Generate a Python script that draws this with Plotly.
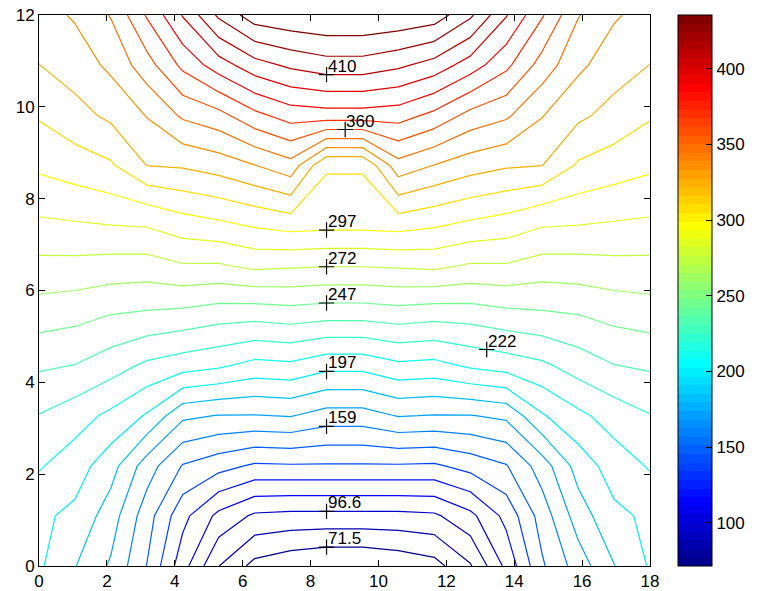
import numpy as np
import plotly.graph_objects as go

# ---------------- data ----------------
x_grid = [0.0, 1.059, 2.118, 3.176, 4.235, 5.294, 6.353, 7.412, 8.471,
          9.529, 10.588, 11.647, 12.706, 13.765, 14.824, 15.882, 16.941, 18.0]
y_grid = [0.0, 1.091, 2.182, 3.273, 4.364, 5.455, 6.545, 7.636, 8.727,
          9.818, 10.909, 12.0]

z_rows = [
    [199.0, 185.0, 170.2, 146.5, 114.2, 84.3, 67.5, 62.0, 58.5, 58.5, 62.0, 66.7, 82.8, 112.3, 145.1, 165.2, 184.0, 198.3],
    [199.5, 194.0, 178.0, 152.5, 125.5, 105.7, 94.4, 93.0, 93.0, 93.0, 93.0, 94.4, 105.7, 125.5, 152.5, 178.0, 194.0, 199.5],
    [210.8, 203.0, 189.6, 165.6, 146.0, 138.9, 132.3, 133.0, 133.0, 133.0, 133.0, 132.3, 138.9, 146.0, 165.6, 189.6, 203.0, 210.8],
    [221.6, 215.0, 206.6, 195.7, 174.6, 171.4, 171.3, 172.6, 166.5, 166.5, 172.6, 171.3, 171.4, 174.6, 195.7, 206.6, 215.0, 221.6],
    [236.4, 234.3, 227.7, 219.6, 215.0, 211.5, 205.5, 206.9, 201.0, 201.0, 206.9, 205.5, 211.5, 215.0, 219.6, 227.7, 234.3, 236.4],
    [252.9, 250.8, 246.8, 244.9, 243.0, 239.5, 238.5, 240.5, 238.5, 238.5, 240.5, 238.5, 239.5, 243.0, 244.9, 246.8, 250.8, 252.9],
    [269.0, 268.7, 267.4, 267.0, 271.3, 271.0, 275.4, 274.1, 273.2, 273.2, 274.1, 275.4, 271.0, 271.3, 267.0, 267.4, 268.7, 269.0],
    [285.3, 287.0, 289.1, 290.4, 296.4, 300.1, 304.5, 308.7, 307.4, 307.4, 308.7, 304.5, 300.1, 296.4, 290.4, 289.1, 287.0, 285.3],
    [299.9, 303.9, 308.3, 322.7, 324.1, 328.1, 334.8, 342.9, 310.5, 310.5, 342.9, 334.8, 328.1, 324.1, 322.7, 308.3, 303.9, 299.9],
    [311.2, 318.2, 325.2, 335.7, 349.8, 356.1, 369.4, 378.4, 380.0, 380.0, 378.4, 369.4, 356.1, 349.8, 335.7, 325.2, 318.2, 311.2],
    [322.3, 328.2, 337.8, 354.9, 375.8, 391.8, 405.3, 412.8, 417.5, 417.5, 412.8, 405.3, 391.8, 375.8, 354.9, 337.8, 328.2, 322.3],
    [330.0, 336.5, 348.4, 374.0, 398.7, 425.3, 442.4, 446.0, 448.0, 448.0, 446.0, 442.4, 425.3, 398.7, 374.0, 348.4, 336.5, 330.0],
]

level_start = 71.5
level_step = 12.55
n_levels = 30

# contour labels: level index and the x where the label sits
label_level_index = [0, 2, 7, 10, 12, 14, 16, 18, 23, 27]
label_x = [8.471, 8.471, 8.471, 8.471, 13.19, 8.471, 8.471, 8.471, 9.02, 8.471]

x_ticks = [0, 2, 4, 6, 8, 10, 12, 14, 16, 18]
y_ticks = [0, 2, 4, 6, 8, 10, 12]
cbar_ticks = [100, 150, 200, 250, 300, 350, 400]

# ---------------- styling helpers ----------------
def jet(m=64):
    n = int(np.ceil(m / 4))
    u = np.concatenate([np.arange(1, n + 1) / n, np.ones(n - 1), np.arange(n, 0, -1) / n])
    g = int(np.ceil(n / 2)) - (1 if m % 4 == 1 else 0) + np.arange(1, len(u) + 1)
    r = g + n
    b = g - n
    J = np.zeros((m, 3))
    for idx, col in ((r, 0), (g, 1), (b, 2)):
        for k, val in zip(idx, u):
            if 1 <= k <= m:
                J[k - 1, col] = val
    return J

J = jet(64)
jet_scale = []
for k in range(64):
    c = 'rgb(%d,%d,%d)' % tuple(int(round(v * 255)) for v in J[k])
    jet_scale.append([k / 64, c])
    jet_scale.append([(k + 1) / 64, c])

FONT = 'Liberation Sans, Arial, sans-serif'
FS = 17
z = np.array(z_rows)
level_end = level_start + level_step * (n_levels - 1)
levels = [level_start + level_step * k for k in range(n_levels)]

fig = go.Figure()
fig.add_trace(go.Contour(
    x=x_grid, y=y_grid, z=z,
    colorscale=jet_scale,
    contours=dict(start=level_start, end=level_end + 1e-6, size=level_step,
                  coloring='lines', showlabels=False),
    line=dict(width=1.2, smoothing=0),
    showscale=False, hoverinfo='skip',
))

# label positions derived from the data
lab_x, lab_y, lab_t = [], [], []
for li, lx in zip(label_level_index, label_x):
    v = levels[li]
    col = np.array([np.interp(lx, x_grid, row) for row in z_rows])
    ly = float(np.interp(v, col, y_grid))
    lab_x.append(lx)
    lab_y.append(ly)
    lab_t.append('%.3g' % v)

fig.add_trace(go.Scatter(
    x=lab_x, y=lab_y, mode='markers',
    marker=dict(symbol='cross-thin', size=11, line=dict(width=1.2, color='black')),
    hoverinfo='skip', showlegend=False,
))
for lx, ly, t in zip(lab_x, lab_y, lab_t):
    fig.add_annotation(x=lx, y=ly, text=t, showarrow=False, xanchor='left', yanchor='bottom',
                       xshift=-1, yshift=-3, font=dict(family=FONT, size=FS, color='black'))

# colorbar carrier
cb_x = (678 - 39) / 611
fig.add_trace(go.Scatter(
    x=[x_grid[0]], y=[y_grid[0]], mode='markers',
    marker=dict(size=1, opacity=0, color=[level_start], colorscale=jet_scale,
                cmin=level_start, cmax=level_end, showscale=True,
                colorbar=dict(thickness=34, thicknessmode='pixels', len=1, lenmode='fraction',
                              x=cb_x, xanchor='left', xpad=0, y=0.5, yanchor='middle', ypad=0,
                              outlinewidth=1, outlinecolor='black',
                              tickvals=cbar_ticks, ticks='inside', ticklen=6, tickcolor='black',
                              tickfont=dict(family=FONT, size=FS, color='black'))),
    hoverinfo='skip', showlegend=False,
))

# ticks on the left edge of the colorbar
for v in cbar_ticks:
    yp = (v - level_start) / (level_end - level_start)
    fig.add_shape(type='line', xref='paper', yref='paper', x0=cb_x, x1=cb_x + 6 / 611,
                  y0=yp, y1=yp, line=dict(color='black', width=1))

axis_common = dict(showline=True, linecolor='black', linewidth=1, mirror='ticks',
                   ticks='inside', ticklen=6, tickcolor='black', showgrid=False, zeroline=False,
                   automargin=False,
                   tickfont=dict(family=FONT, size=FS, color='black'))
fig.update_xaxes(range=[0, 18], tickvals=x_ticks, **axis_common)
fig.update_yaxes(range=[0, 12], tickvals=y_ticks, **axis_common)

fig.update_layout(
    width=759, height=591,
    margin=dict(l=39, r=109, t=15, b=25, autoexpand=False),
    paper_bgcolor='white', plot_bgcolor='white',
    showlegend=False,
)

fig.write_html('out.html', config={'displayModeBar': False},
               post_script="document.body.style.margin='0';document.body.style.overflow='hidden';")
